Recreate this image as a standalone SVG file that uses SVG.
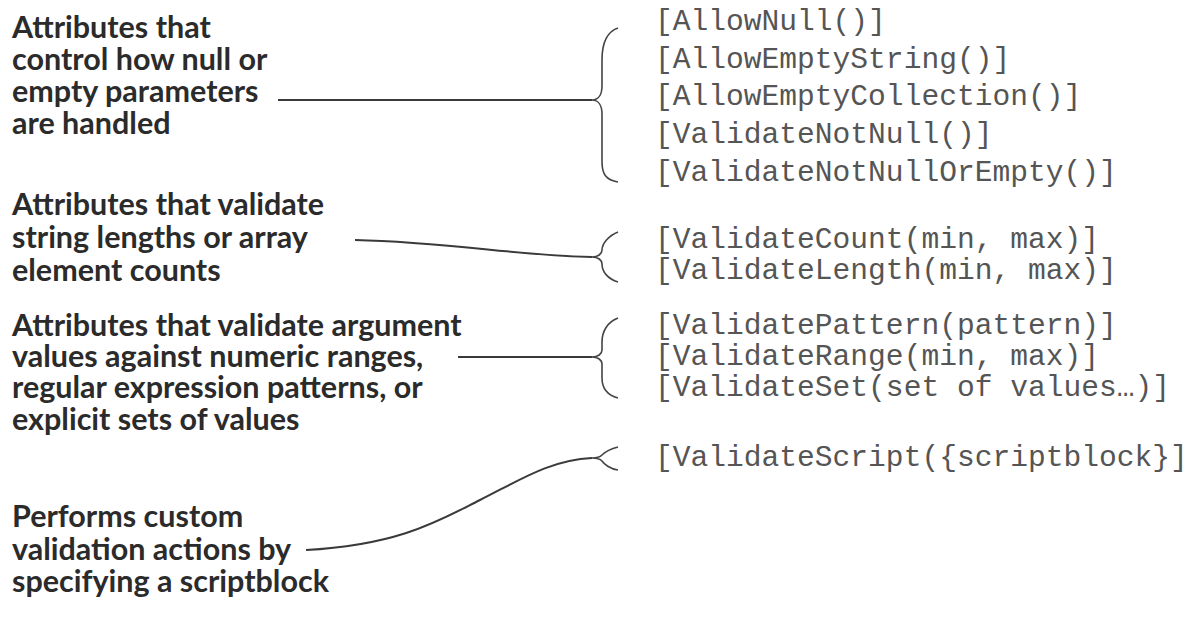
<svg xmlns="http://www.w3.org/2000/svg" width="1195" height="618" viewBox="0 0 1195 618">
<style>
.lbl{font-family:Lato,"Open Sans",sans-serif;font-weight:bold;font-size:30.5px;fill:#2b2b2b}
.code{font-family:"Liberation Mono","Courier New",monospace;font-size:29.6px;fill:#555555}
.ln{fill:none;stroke:#3a3a3a;stroke-width:2}
.br{fill:none;stroke:#444444;stroke-width:1.6}
</style>
<rect width="1195" height="618" fill="#ffffff"/>
<g id="connectors">
<path class="ln" d="M278,100 L592,100"/>
<path class="br" d="M618,28 C606,32 602,44 602,60 L602,86 C602,95 598,100 592,100 C598,100 602,105 602,114 L602,162 C602,174 606,180 618,182"/>
<path class="ln" d="M355,240 C450,242 520,256 592,257"/>
<path class="br" d="M618,232 C608,236 602,244 602,250 C602,254 598,257 592,257 C598,257 602,260 602,264 C602,272 608,279 618,282"/>
<path class="ln" d="M458,357 L592,357"/>
<path class="br" d="M618,318 C607,322 602,332 602,342 L602,350 C602,354 598,357 592,357 C598,357 602,360 602,364 L602,378 C602,388 607,395 618,398"/>
<path class="ln" d="M306,550 C400,545 440,520 480,500 C520,480 550,460 592,458"/>
<path class="br" d="M618,447 C610,449 604,453 602,455 C600,457 596,458 592,458 C596,458 600,459 602,461 C604,464 610,469 618,470"/>
</g>
<g id="g1-label">
<text class="lbl" x="12" y="38">Attributes that</text>
<text class="lbl" x="12" y="70">control how null or</text>
<text class="lbl" x="12" y="102">empty parameters</text>
<text class="lbl" x="12" y="134">are handled</text>
</g>
<g id="g1-code">
<text class="code" x="655" y="30">[AllowNull()]</text>
<text class="code" x="655" y="68">[AllowEmptyString()]</text>
<text class="code" x="655" y="105">[AllowEmptyCollection()]</text>
<text class="code" x="655" y="143">[ValidateNotNull()]</text>
<text class="code" x="655" y="181">[ValidateNotNullOrEmpty()]</text>
</g>
<g id="g2-label">
<text class="lbl" x="12" y="215">Attributes that validate</text>
<text class="lbl" x="12" y="248">string lengths or array</text>
<text class="lbl" x="12" y="281">element counts</text>
</g>
<g id="g2-code">
<text class="code" x="655" y="248">[ValidateCount(min, max)]</text>
<text class="code" x="655" y="279">[ValidateLength(min, max)]</text>
</g>
<g id="g3-label">
<text class="lbl" x="12" y="336">Attributes that validate argument</text>
<text class="lbl" x="12" y="367">values against numeric ranges,</text>
<text class="lbl" x="12" y="398">regular expression patterns, or</text>
<text class="lbl" x="12" y="430">explicit sets of values</text>
</g>
<g id="g3-code">
<text class="code" x="655" y="334">[ValidatePattern(pattern)]</text>
<text class="code" x="655" y="365">[ValidateRange(min, max)]</text>
<text class="code" x="655" y="396">[ValidateSet(set of values…)]</text>
</g>
<g id="g4-label">
<text class="lbl" x="12" y="527">Performs custom</text>
<text class="lbl" x="12" y="560">validation actions by</text>
<text class="lbl" x="12" y="592">specifying a scriptblock</text>
</g>
<g id="g4-code">
<text class="code" x="655" y="466">[ValidateScript({scriptblock}]</text>
</g>
</svg>
